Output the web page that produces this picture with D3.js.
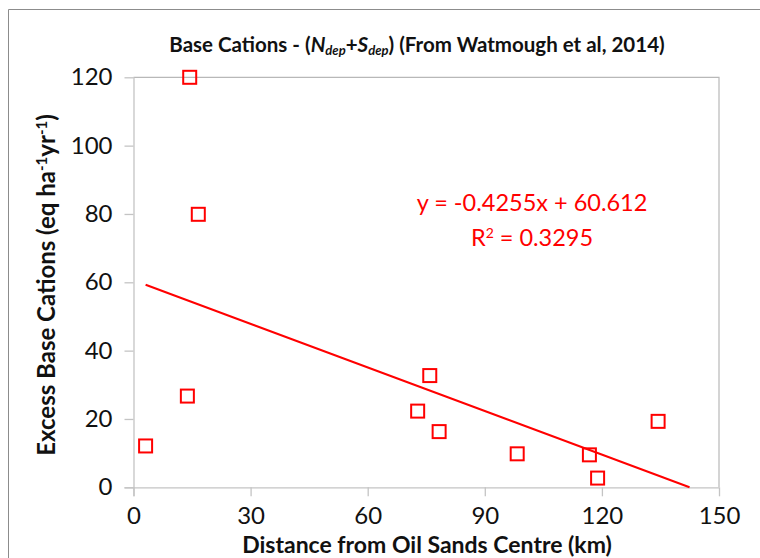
<!DOCTYPE html>
<html>
<head>
<meta charset="utf-8">
<script src="https://cdn.jsdelivr.net/npm/d3@7"></script>
<style>
  html, body { margin: 0; padding: 0; background: #fff; }
  svg { display: block; font-family: Lato, "Open Sans", sans-serif; }
</style>
</head>
<body>
<svg id="chart" width="760" height="558"></svg>
<script>
// Site data: distance from the oil sands centre (km) and excess base cations
const distanceKm = [3.1, 13.8, 14.4, 16.6, 72.8, 75.9, 78.3, 98.3, 116.8, 118.9, 134.4];
const excessBC   = [12.1, 26.7, 120.0, 79.9, 22.3, 32.7, 16.3, 9.8, 9.5, 2.7, 19.3];

// Linear fit reported on the chart
const slope = -0.4255;
const intercept = 60.612;
const rSquared = "0.3295";

const xTicks = [0, 30, 60, 90, 120, 150];
const yTicks = [0, 20, 40, 60, 80, 100, 120];

const svg = d3.select("#chart");
const W = 760, H = 558;
const plot = { left: 133.5, right: 719, top: 77.3, bottom: 487.3 };

const x = d3.scaleLinear().domain([0, 150]).range([plot.left, plot.right]);
const y = d3.scaleLinear().domain([0, 120]).range([plot.bottom, plot.top]);

// Outer chart frame
svg.append("path")
  .attr("d", `M8.5,${H} V9.5 H${W}`)
  .attr("fill", "none").attr("stroke", "#8c8c8c").attr("stroke-width", 1);

// Plot area border (top and right)
svg.append("path")
  .attr("d", `M${plot.left},${plot.top} H${plot.right} V${plot.bottom}`)
  .attr("fill", "none").attr("stroke", "#b8b8b8").attr("stroke-width", 1.2);

// Axes
const xAxis = d3.axisBottom(x).tickValues(xTicks).tickSize(9).tickPadding(11).tickFormat(d3.format("d"));
const yAxis = d3.axisLeft(y).tickValues(yTicks).tickSize(9).tickPadding(12).tickFormat(d3.format("d"));

const gx = svg.append("g").attr("transform", `translate(0,${plot.bottom})`).call(xAxis);
const gy = svg.append("g").attr("transform", `translate(${plot.left},0)`).call(yAxis);

[gx, gy].forEach(g => {
  g.select(".domain").attr("stroke", "#c4c4c4").attr("stroke-width", 1.3);
  g.selectAll(".tick line").attr("stroke", "#c4c4c4").attr("stroke-width", 1.3);
  g.selectAll(".tick text")
    .attr("font-family", "Lato, 'Open Sans', sans-serif")
    .attr("font-size", 24).attr("fill", "#111");
});
gx.select(".domain").attr("d", `M${plot.left - 9},0.5H${plot.right}`);
gy.select(".domain").attr("d", `M0.5,${plot.top}V${plot.bottom + 9}`);

// Trend line, from the first site to where the fit reaches zero
const xStart = d3.min(distanceKm);
const xEnd = -intercept / slope;
svg.append("line")
  .attr("x1", x(xStart)).attr("y1", y(slope * xStart + intercept))
  .attr("x2", x(xEnd)).attr("y2", y(slope * xEnd + intercept))
  .attr("stroke", "#ff0000").attr("stroke-width", 2);

// Square markers
const s = 13;
svg.append("g").selectAll("rect")
  .data(distanceKm.map((d, i) => [d, excessBC[i]]))
  .join("rect")
  .attr("x", d => x(d[0]) - s / 2)
  .attr("y", d => y(d[1]) - s / 2)
  .attr("width", s).attr("height", s)
  .attr("fill", "none").attr("stroke", "#ff0000").attr("stroke-width", 2);

// Equation and R²
const eq = svg.append("g").attr("fill", "#ff0000").attr("font-size", 23.5).attr("text-anchor", "middle");
eq.append("text").attr("x", 532).attr("y", 211)
  .text(`y = ${slope}x + ${intercept}`);
const r2 = eq.append("text").attr("x", 532).attr("y", 246);
r2.append("tspan").text("R");
r2.append("tspan").attr("font-size", 14).attr("baseline-shift", "55%").text("2");
r2.append("tspan").text(` = ${rSquared}`);

// Chart title
const title = svg.append("text")
  .attr("x", 417).attr("y", 52)
  .attr("text-anchor", "middle").attr("font-weight", "bold").attr("font-size", 20.5).attr("fill", "#111");
title.append("tspan").text("Base Cations - (");
title.append("tspan").attr("font-style", "italic").text("N");
title.append("tspan").attr("font-style", "italic").attr("font-size", 13).attr("baseline-shift", "-20%").text("dep");
title.append("tspan").text("+");
title.append("tspan").attr("font-style", "italic").text("S");
title.append("tspan").attr("font-style", "italic").attr("font-size", 13).attr("baseline-shift", "-20%").text("dep");
title.append("tspan").text(") (From Watmough et al, 2014)");

// X axis title
svg.append("text")
  .attr("x", 427).attr("y", 553)
  .attr("text-anchor", "middle").attr("font-weight", "bold").attr("font-size", 23).attr("fill", "#111")
  .text("Distance from Oil Sands Centre (km)");

// Y axis title
const yt = svg.append("text")
  .attr("transform", "translate(55,285) rotate(-90)")
  .attr("text-anchor", "middle").attr("font-weight", "bold").attr("font-size", 24).attr("fill", "#111");
yt.append("tspan").text("Excess Base Cations (eq ha");
yt.append("tspan").attr("font-size", 15).attr("baseline-shift", "55%").text("-1");
yt.append("tspan").text("yr");
yt.append("tspan").attr("font-size", 15).attr("baseline-shift", "55%").text("-1");
yt.append("tspan").text(")");
</script>
</body>
</html>
